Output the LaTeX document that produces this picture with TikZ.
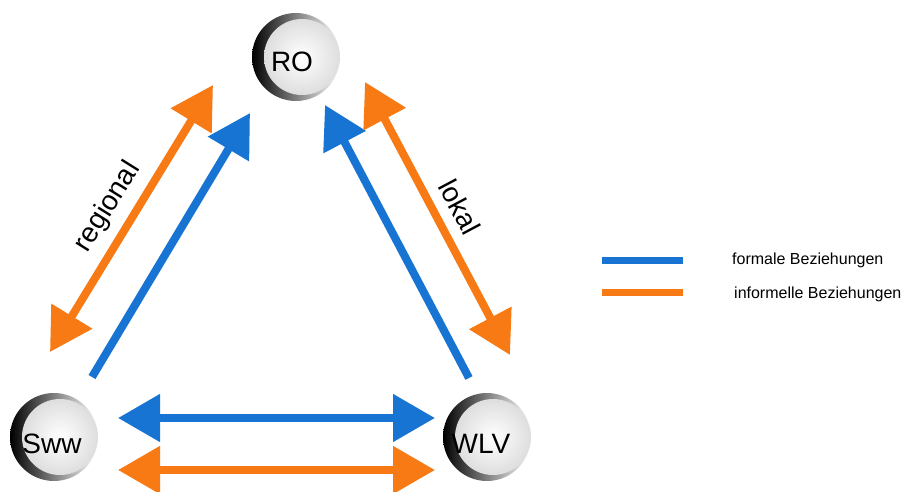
\documentclass[tikz,border=0pt]{standalone}
\usepackage{fontspec}
\setmainfont{Liberation Sans}
\usepackage{tikz}
\usetikzlibrary{arrows.meta,calc}

\definecolor{formalblau}{RGB}{24,116,210}
\definecolor{infoorange}{RGB}{247,122,20}

\tikzset{
  spitze/.tip={Triangle[length=42pt,width=46pt]},
  pfeil/.style={line width=8pt,-spitze},
  doppelpfeil/.style={line width=8pt,spitze-spitze},
  ring/.style={left color=black,middle color=black!55,right color=white},
  scheibe/.style={inner color=white,outer color=black!13},
  kuerzel/.style={inner sep=0pt,font=\fontsize{28}{30}\selectfont},
  beschriftung/.style={inner sep=0pt,font=\fontsize{28}{30}\selectfont},
  legende/.style={inner sep=0pt,anchor=west,font=\fontsize{16}{18}\selectfont},
}

\begin{document}
\begin{tikzpicture}[x=1pt,y=-1pt]
\useasboundingbox[fill=white] (0,0) rectangle (908,492);

% Stellen
\coordinate (ro) at (296,57);
\coordinate (sww) at (54,437);
\coordinate (wlv) at (487,437);
\shade[ring] (ro) circle (44);
\shade[scheibe] ($(ro)+(6,0)$) circle (38);
\shade[ring] (sww) circle (44);
\shade[scheibe] ($(sww)+(6,0)$) circle (38);
\shade[ring] (wlv) circle (44);
\shade[scheibe] ($(wlv)+(6,0)$) circle (38);
\node[kuerzel] (RO) at (292,62) {RO};
\node[kuerzel] (Sww) at (52,444) {Sww};
\node[kuerzel] (WLV) at (481,444) {WLV};

% Pfeilenden
\coordinate (regA) at (50,352);
\coordinate (regB) at (213,85);
\coordinate (swwro) at (92,377);
\coordinate (rosww) at (250,113);
\coordinate (wlvro) at (469,378);
\coordinate (rowlv) at (325,105);
\coordinate (lokA) at (365,82);
\coordinate (lokB) at (510,355);
\coordinate (hbA) at (118,418);
\coordinate (hbB) at (435,418);
\coordinate (hoA) at (118,470);
\coordinate (hoB) at (435,470);

\draw[infoorange,doppelpfeil] (regA) -- (regB);
\draw[formalblau,pfeil] (swwro) -- (rosww);
\draw[formalblau,pfeil] (wlvro) -- (rowlv);
\draw[infoorange,doppelpfeil] (lokA) -- (lokB);
\draw[formalblau,doppelpfeil] (hbA) -- (hbB);
\draw[infoorange,doppelpfeil] (hoA) -- (hoB);

\node[beschriftung,rotate=58] (regional) at (108,207) {regional};
\node[beschriftung,rotate=-62] (lokal) at (460,207) {lokal};

% Legende
\coordinate (lbA) at (602,260);
\coordinate (lbB) at (683,260);
\coordinate (loA) at (602,292);
\coordinate (loB) at (683,292);
\draw[formalblau,line width=7pt] (lbA) -- (lbB);
\draw[infoorange,line width=7pt] (loA) -- (loB);
\node[legende] (formal) at (732,260) {formale Beziehungen};
\node[legende] (informell) at (734,294) {informelle Beziehungen};
\end{tikzpicture}
\end{document}
